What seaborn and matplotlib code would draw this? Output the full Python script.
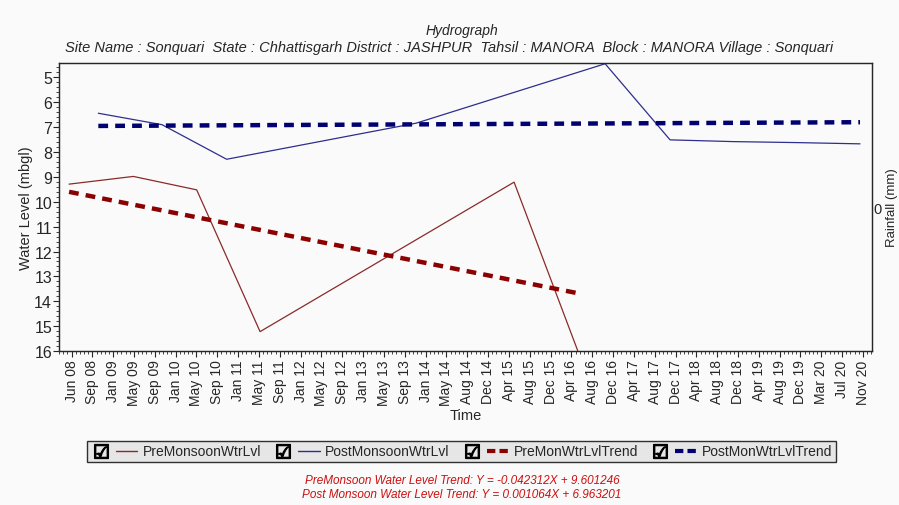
import matplotlib
matplotlib.use("Agg")
import matplotlib.pyplot as plt
import matplotlib.dates as mdates
from matplotlib.ticker import AutoMinorLocator
from matplotlib.lines import Line2D
from matplotlib.legend_handler import HandlerTuple
import pandas as pd
import seaborn as sb

pre_dates = ["2008-05-27", "2009-05-31", "2010-05-30", "2011-05-29", "2015-05-27", "2016-05-30"]
pre_level = [9.29, 8.98, 9.52, 15.22, 9.21, 16.05]
post_dates = ["2008-11-11", "2009-11-12", "2010-11-18", "2013-11-10", "2016-10-31",
              "2017-11-08", "2018-11-05", "2019-11-07", "2020-11-03"]
post_level = [6.44, 6.90, 8.29, 6.84, 4.45, 7.51, 7.58, 7.62, 7.67]
pre_trend_dates = ["2008-05-27", "2016-05-30"]
pre_trend_level = [9.60, 13.68]
post_trend_dates = ["2008-11-11", "2020-11-03"]
post_trend_level = [6.95, 6.80]
tick_labels = ["Jun 08", "Sep 08", "Jan 09", "May 09", "Sep 09", "Jan 10", "May 10", "Sep 10",
               "Jan 11", "May 11", "Sep 11", "Jan 12", "May 12", "Sep 12", "Jan 13", "May 13",
               "Sep 13", "Jan 14", "May 14", "Aug 14", "Dec 14", "Apr 15", "Aug 15", "Dec 15",
               "Apr 16", "Aug 16", "Dec 16", "Apr 17", "Aug 17", "Dec 17", "Apr 18", "Aug 18",
               "Dec 18", "Apr 19", "Aug 19", "Dec 19", "Mar 20", "Jul 20", "Nov 20"]
legend_labels = ["PreMonsoonWtrLvl", "PostMonsoonWtrLvl", "PreMonWtrLvlTrend", "PostMonWtrLvlTrend"]

c_pre = "#8B2A2A"
c_post = "#2E2E8E"
c_pre_tr = "#8B0000"
c_post_tr = "#000070"

sb.set_style("ticks")
plt.rcParams['font.family'] = ['Liberation Sans', 'DejaVu Sans']
bg = "#FAFAFA"

pre = pd.DataFrame({"date": pd.to_datetime(pre_dates), "level": pre_level})
post = pd.DataFrame({"date": pd.to_datetime(post_dates), "level": post_level})
pre_tr = pd.DataFrame({"date": pd.to_datetime(pre_trend_dates), "level": pre_trend_level})
post_tr = pd.DataFrame({"date": pd.to_datetime(post_trend_dates), "level": post_trend_level})

fig = plt.figure(figsize=(8.99, 5.06), dpi=100, facecolor=bg)
ax = fig.add_axes([0.0656, 0.3043, 0.9044, 0.5692], facecolor=bg)

sb.lineplot(data=pre, x="date", y="level", ax=ax, color=c_pre, lw=0.9)
sb.lineplot(data=post, x="date", y="level", ax=ax, color=c_post, lw=0.9)
sb.lineplot(data=pre_tr, x="date", y="level", ax=ax, color=c_pre_tr, lw=3.2, ls=(0, (2.2, 1.6)))
sb.lineplot(data=post_tr, x="date", y="level", ax=ax, color=c_post_tr, lw=3.2, ls=(0, (2.2, 1.6)))

ax.set_ylim(16, 4.42)
ax.set_yticks(range(5, 17))
ax.yaxis.set_minor_locator(AutoMinorLocator(5))
ax.set_xlim(pd.Timestamp("2008-03-30"), pd.Timestamp("2021-01-11"))
ticks = pd.date_range("2008-06-10", "2020-11-20", periods=len(tick_labels))
ax.set_xticks(mdates.date2num(ticks))
ax.set_xticklabels(tick_labels, rotation=90, fontsize=10)
ax.xaxis.set_minor_locator(AutoMinorLocator(5))
ax.tick_params(axis="y", labelsize=11.5, length=4, pad=1)
ax.tick_params(axis="x", length=4, pad=2)
ax.tick_params(which="minor", length=2)
for s in ax.spines.values():
    s.set_color("#404040")
    s.set_linewidth(1)

ax.set_xlabel("Time", fontsize=10.5, labelpad=2)
ax.set_ylabel("Water Level (mbgl)", fontsize=10.5, labelpad=1)

ax2 = ax.twinx()
ax2.set_ylim(-1, 1)
ax2.set_yticks([0])
ax2.tick_params(axis="y", length=0, labelsize=10.5, pad=1)
ax2.set_ylabel("Rainfall (mm)", fontsize=9.5, labelpad=3)

fig.text(0.514, 0.938, "Hydrograph", ha="center", va="center", fontsize=10, style="italic")
fig.text(0.5, 0.905,
         "Site Name : Sonquari  State : Chhattisgarh District : JASHPUR  Tahsil : MANORA  "
         "Block : MANORA Village : Sonquari",
         ha="center", va="center", fontsize=10.5, style="italic")

box = lambda: Line2D([], [], ls="none", marker="$\u2611$", color="black", markersize=10)
handles = [
    (box(), Line2D([], [], color=c_pre, lw=1)),
    (box(), Line2D([], [], color=c_post, lw=1)),
    (box(), Line2D([], [], color=c_pre_tr, lw=3, ls=(0, (2, 1)))),
    (box(), Line2D([], [], color=c_post_tr, lw=3, ls=(0, (2, 1)))),
]
leg = fig.legend(handles, legend_labels, ncol=4, loc="center", bbox_to_anchor=(0.513, 0.106),
                 handler_map={tuple: HandlerTuple(ndivide=None, pad=0.3)},
                 handlelength=3.4, handletextpad=0.4, columnspacing=0.8, fontsize=10,
                 frameon=True, fancybox=False, borderpad=0.25, facecolor="#E6E6E6",
                 edgecolor="#303030", framealpha=1)
leg.get_frame().set_linewidth(1)

eq_font = ['Liberation Sans Narrow', 'Liberation Sans', 'DejaVu Sans']
fig.text(0.514, 0.050, "PreMonsoon Water Level Trend: Y = -0.042312X + 9.601246",
         ha="center", va="center", fontsize=8.5, style="italic", color="#CC1111", family=eq_font)
fig.text(0.514, 0.022, "Post Monsoon Water Level Trend: Y = 0.001064X + 6.963201",
         ha="center", va="center", fontsize=8.5, style="italic", color="#CC1111", family=eq_font)

fig.savefig("out.png", dpi=100, facecolor=bg)
